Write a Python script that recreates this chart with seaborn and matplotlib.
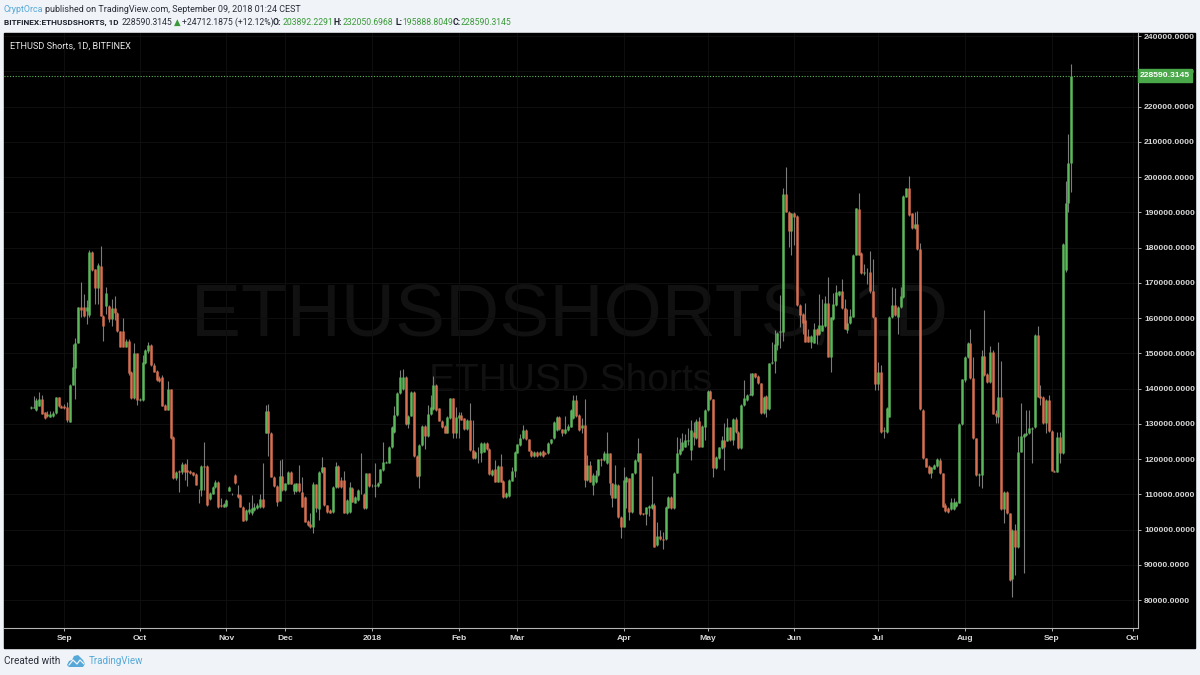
import matplotlib
matplotlib.use("Agg")
import matplotlib.pyplot as plt
from matplotlib.patches import Polygon, Rectangle
from matplotlib.transforms import Bbox
import seaborn as sns
import pandas as pd

# daily candles, in thousands
OPENS = [
    134.5,134.4,133.9,135,137,133.2,132.2,132,132.2,133,
    137.5,135,135,134.8,130.6,141,145.7,153,163,163,
    162,160.9,178.6,173.8,168.6,174.8,160.6,163.4,163.4,159.7,
    162.8,161.4,156.2,156.2,151.9,153.6,144.8,137.2,150,136.8,
    136.8,147.2,150.5,152.4,146.7,145,142.9,143.4,135.4,134,
    139.8,126.2,114.5,116.5,116.4,118.6,116.9,116.7,116.2,115.8,
    111.3,111.2,118,118,108.6,110.2,112,113.6,107,106.5,
    106.7,111,110,115.5,110.2,109.8,106.5,102.7,105,104.6,
    105.5,106,106.3,108.6,127.5,133.7,127.5,115,112.4,108.2,
    115.2,111.2,113,116.4,110.8,110.9,113.1,110.7,109.3,102.5,
    101.5,100.8,112.8,105.7,116.4,117.6,106.9,105.5,105,112,
    118.1,114,114,104.6,105,111.7,107.6,108.4,110.5,110.2,
    106,115.9,112.6,112.3,112.4,113.3,116.9,119,119,123.3,
    127.7,132.5,138.6,139.8,143.3,129.9,132.3,139.1,120.9,115.2,
    124,129.4,126.5,132.7,134.1,141,134.4,130.9,129.4,127.5,
    131.5,137.2,127.3,131.5,132.5,131.5,128.4,131,122.5,120.2,
    122.1,121.8,122.1,124.6,122.9,115.5,117.3,113.6,118,113.8,
    109.1,109.5,113.9,116.7,121.8,124,125.9,128.2,125.6,122.3,
    120.9,122.1,121.1,122.3,121.8,121.6,124.5,125.9,128.2,132,
    128.4,127.3,128.2,129.2,131.5,136.7,132.5,128.7,129.6,114,
    118.3,112.6,113.5,115.5,119.9,119.7,118.8,121.6,113.1,109,
    112.6,103.6,100.8,113.6,114.5,105,115.9,119.3,121.6,104.6,
    104.4,106,106,107,95.6,98.2,97.4,97.2,106.2,109.3,
    106,116.1,121.4,122.5,123.5,125.2,122.6,127.7,125.9,130.9,
    123.5,129.2,133.9,139.4,136.9,117.4,120.2,123,125.4,125.2,
    129,125.4,131.3,127.7,123,135.3,136.7,138.3,138.2,144.3,
    143.5,141.5,133,137.9,134.1,147.1,147.9,152.3,156,156.1,
    195.3,190.1,184.7,189.7,188.9,163.7,161.1,159.4,154.9,153.3,
    153,157,155.4,156.4,157.7,164.3,149,159.6,163.7,166.5,
    167.6,162.7,156.5,158.5,160.4,178,190.8,178.5,172.8,172.9,
    173.1,167.7,160.2,141.4,144.7,128,127.7,132,160.2,163.7,
    160.2,163,166,194.4,196.8,189.7,185.4,186.6,179.5,133.9,
    120.2,118,115.9,117.3,118,119.7,115.9,106.9,106.2,105.7,
    105.7,106.7,107.6,129.9,142.4,148.8,153,142.9,125.9,115.6,
    115.5,149.2,144.1,141.9,150.4,133,132,137.5,105.7,110.7,
    104.6,85.9,99.9,94.9,122.1,126.3,126.8,127.3,128.6,129,
    155.2,137.9,137.7,130.1,136.7,128,116.7,116.4,126.3,121.6,
    173.6,192.7,203.892,
]
CLOSES = [
    134.7,134.8,136.8,137,132.8,131.6,132.7,132.7,133,137.5,
    135,134.6,134.4,131.1,141,146,153,163,162.3,160.6,
    163,178.6,173.5,168.6,175.1,160.7,157.6,167,159.7,162.8,
    161.4,156.2,151.9,151.9,153.6,144.3,137.2,150,136.8,137,
    147.5,150.8,152.4,146.7,144.8,142.4,142,135.1,134,139.8,
    125.9,114.5,116.4,116.2,118.6,116.4,116.2,116,115.5,112.7,
    111.1,118,117.8,107,110.3,112.2,113.6,106.3,106.8,107.3,
    108.4,112.2,110.2,113.1,109.3,106.5,102.5,105.5,105.7,106,
    106.5,106.9,108.6,106.3,133.7,127.5,115,112.4,107.9,115.2,
    111.2,113.1,116.4,113,113,113.1,110.8,106.5,102.2,101.2,
    100.8,112.8,106,116.4,117.6,106.9,105,104.8,112.1,118.1,
    112,112,104.8,108.4,112,107.9,109.3,111.2,110.6,106,
    115.9,112.3,112.5,112.5,113.3,117.1,119.2,119.2,123.5,129.2,
    132.5,138.8,143.3,143.3,129.9,132.3,139.1,120.9,115.2,124,
    129.4,126.5,132.9,134.7,141,133.9,130.9,129,127.5,132,
    137.2,127.3,132,132.5,131.2,128.4,131.2,122.5,120.2,122.1,
    122,124.6,124.6,122.7,115.7,117,113.6,118,113.6,109.1,
    110.4,114,116.7,122.1,124.2,125.9,128.2,125.6,122.4,120.9,
    122.1,120.9,122.1,120.9,121.5,124.6,125.6,130.6,132,128.4,
    127.3,128.4,129.4,133.9,136.7,132.2,128.2,129.6,114,118.3,
    113.6,115.5,115.5,119.9,119.7,121.6,121.6,113.1,109,112.9,
    103.6,100.6,114,115,105,115.9,119.7,121.6,104.4,104.4,
    106.3,106.7,107.2,95.1,98.2,97.2,97,106.5,109.3,106,
    116.1,121.6,122.7,124.9,125.4,125.4,128.2,126.3,130.9,123.5,
    129.4,133.9,139.4,136.9,117.4,120.7,123.3,125.4,123.3,129,
    125.4,131.3,127.7,123,135.3,137.2,138.2,138.5,144.3,143.2,
    141.5,133.1,137.7,134.1,147.1,147.6,152.6,155.7,156.2,195.3,
    190.1,184.7,189.7,188.7,163.7,160.8,158.5,153.3,153.3,154.9,
    157,155.2,158,158,164.3,149,160.2,163.9,167.4,167.6,
    162.7,157,158.5,160.5,178,191.1,178,172.8,173,172.7,
    167.7,160.2,141.4,144.7,127.7,128.1,134.6,160.4,163.7,160.8,
    163.2,166.2,194.6,196.8,189.2,185.4,186.6,179.5,134.1,120.2,
    117.8,115.9,117.6,118.3,119.9,115.9,106.5,105.3,105,107.9,
    107.9,107.9,129.9,142.6,148.8,153,142.9,125.9,115.5,115.8,
    149.2,143.8,141.9,150.4,132.9,132.2,137.5,105.7,110.7,104.6,
    85.7,99.9,94.9,122.1,126.5,127.2,127.5,128.7,128.9,155.2,
    137.7,137.2,130.1,136.7,128,116.7,116.4,126.3,121.6,181,
    192.5,204.1,228.59,
]
HIGHS = [
    134.9,137.9,137.2,138.9,138.2,133.4,133.6,133.5,133.5,137.6,
    137.6,135.2,135.5,136.3,141.2,152.5,154.3,163.2,170.3,166.8,
    165.1,179.3,179,174,175.5,180.5,160.8,168.9,163.6,165.3,
    166.3,161.6,156.4,160,154,154,145,152.8,150.2,137.4,
    149.5,151.2,153.3,152.6,147.3,145.2,143.5,143.8,135.6,142,
    140,126.4,116.6,116.8,119.2,119,119.9,117,116.4,116,
    111.5,118.4,124.8,118.2,110.5,112.4,114,113.8,108.9,107.6,
    108.6,112.3,110.3,115.7,112.5,110,106.7,105.7,107.9,109.8,
    107.6,107.4,110,119,135.4,135.6,127.7,115.2,112.6,119.8,
    120,113.3,116.6,116.7,113.2,113.3,118.3,115,109.5,102.7,
    104.6,113.6,113,116.6,120.6,117.8,107,105.7,112.4,119.2,
    118.3,115,116.7,108.6,113.6,112,109.5,111.4,121.6,110.4,
    116.1,116.1,113,118.8,113.5,117.3,124.9,119.4,123.7,129.4,
    134.9,139,145.2,145.4,143.5,132.5,139.3,139.3,121.1,124.2,
    129.6,129.6,135.3,138.2,143.5,141.2,134.6,131.1,129.6,132.2,
    137.4,137.4,134.8,133.4,133.4,131.7,131.4,135.8,131,122.3,
    123.5,124.8,124.8,124.8,123.1,117.2,119.7,118.2,121.4,114,
    110.6,114.2,117.8,122.3,124.4,127,129.6,128.4,125.8,122.5,
    122.3,122.3,122.3,122.5,122,124.8,125.8,130.8,132.2,132.2,
    128.6,132.2,130,134.1,138.2,138.2,132.7,131.5,136.9,121.1,
    119.4,116,117,120,120.2,122.2,127.8,121.8,113.3,118.3,
    112.8,103.8,117.8,115.2,114.7,116.1,120,125.9,121.8,104.8,
    106.5,106.9,115.3,107.5,102.2,99.9,99.4,106.7,109.5,109.5,
    116.3,126.3,125.9,127.3,127,128.7,131.1,130.6,131.3,132,
    129.6,134.1,139.6,139.6,137.1,120.9,123.5,126.5,130.1,131.5,
    129.2,131.5,131.8,127.9,135.5,142.4,138.4,144.5,144.5,144.5,
    143.7,141.7,137.9,138.1,147.3,153.3,156.6,155.9,166.5,197,
    202.9,190.3,189.9,190,189.1,163.9,161.3,164.3,157,155.1,
    158.7,157.2,166.7,165.3,166.2,171.5,160.4,167,169.3,167.8,
    171,165.3,162.5,162.5,178.2,191.3,195.5,178.7,175.3,174.3,
    179.1,176.6,160.4,147.6,146.6,129.1,134.8,160.6,168.9,168.6,
    163.4,168.9,194.8,197,200.3,189.9,190.1,190.4,181.4,134.1,
    120.4,118.2,117.8,118.5,120.3,120.3,116.1,107.4,106.4,108.8,
    108.8,108.2,130.1,142.8,149.2,153.2,156.8,149,126.1,116,
    150.9,162.3,144.3,152,151,133.9,153.3,147.8,110.9,110.9,
    104.8,100.1,101.7,126.4,136,127.4,133.9,133.9,129.1,155.4,
    157.7,141,137.9,136.9,138.2,128.2,116.9,127.6,127.6,181.2,
    198.9,212.2,232.051,
]
LOWS = [
    134.3,134.4,133.7,135,132.8,131.4,132,132,132,132.7,
    134.8,134.4,134.3,130.6,130.5,141,137,153,160.4,160.2,
    158.3,160.2,173.3,164,164,160.7,153.6,161,158.9,157.8,
    159.3,155.9,151.9,151.9,151.8,143.8,137,137,135.4,136.5,
    136.5,147,150,146.5,144.6,142,141.8,135,133.8,133.8,
    125.7,114.2,114,110.5,115.8,114,112.4,115.7,115.3,112.5,
    107.6,109.4,111.2,106.8,108.4,110,111.8,106,106.5,106.3,
    106.5,110.9,109.9,112.9,108.9,106.3,102.3,102.4,104.5,104,
    105.3,105.8,106,106,127.3,120.9,114.8,112.2,106.7,108,
    110.8,110.9,112.8,112.8,110,110.7,110.6,106.3,102,101,
    100.5,99.1,105,102.7,116,106.7,104.8,104.6,104.8,111.8,
    111.8,111.8,104.6,104.5,104.8,107.7,107.4,108.2,110.2,105.8,
    105.8,112.1,112.1,109.3,112.2,113.1,116.7,118.8,118.8,123.1,
    127.5,132.3,138.4,139.6,129.7,128.7,132.1,120.7,115,111.7,
    123.8,122.9,126.3,132.5,133.9,133.7,130.7,128.8,127.3,127.3,
    131.3,125.9,125.9,125.9,131,128.2,128.2,122.3,120,120,
    118.8,119.2,121.9,122.5,115.5,115.3,113.4,113.4,113.4,108.9,
    108.9,109.3,113.7,114.9,121.6,123.8,125.7,125.4,122.2,120.7,
    120.7,120.7,120.9,120.7,121.3,121.4,124.3,125.7,128,128.2,
    126.5,127.1,128,129,131.3,132,127.9,127.5,112,113.8,
    113.4,109.8,113.3,115.3,118,119.5,118.6,109.9,106.3,108.8,
    103.4,97.5,100.6,106,102.8,104.8,115.7,119.1,104.2,104.2,
    101.3,103.8,105.8,94.9,95.4,97,94.6,97,106,105.8,
    105.8,115.9,121.2,122.3,123.3,124,119.7,124,125.7,123.3,
    123.3,125.4,133.7,136.7,114.9,117.2,120,122.8,116.9,125,
    125.2,123.9,127.5,122.8,122.8,135.1,136.5,138.1,138,143,
    141.3,132.9,132.8,131.8,133.9,146.9,144.3,151,151.4,153.5,
    190,180.2,177.8,180.7,163.5,157.5,155.6,153.1,153.1,151.4,
    152.8,152.6,155.2,156.2,157.5,148.8,144.8,159.4,163.5,166.3,
    162.5,156.8,155.8,158.3,160.2,177.8,177.8,172.6,172.2,169.6,
    167.2,160,139.6,139.6,127.5,126.1,127.5,131.8,160,160.6,
    155.6,162.8,165.8,194.2,189,185.2,185.2,179.3,133.9,120,
    117.6,115.7,114.5,117.1,117.8,115.7,106.3,105.1,104.8,105.5,
    105.5,106.5,107.4,129.7,141.9,148.6,142.7,125.7,115.3,112.3,
    111.7,143.6,141.5,141.7,132.7,130.1,130.1,105.5,101.9,104.4,
    85.5,80.9,87.1,94.7,121.9,87.6,126.6,127.1,118.8,128.8,
    137.5,135.3,129.9,127.3,127.8,116.5,116.2,116.2,118.8,121.4,
    173,190.2,195.889,
]

X_TICK_BARS = [12, 39, 70, 91, 122, 153, 174, 212, 242, 273, 303, 334, 365, 394]
X_TICK_LABELS = ["Sep", "Oct", "Nov", "Dec", "2018", "Feb", "Mar", "Apr", "May", "Jun", "Jul", "Aug", "Sep", "Oct"]
Y_TICKS = list(range(80000, 240001, 10000))
LAST_CLOSE = 228590.3145

GREEN = "#5cb85a"
RED = "#d76f50"
WICK = "#7c7c7c"
PAGE = "#f0f3f7"
GRID = "#0e0e0e"
WATERMARK = "#111111"
BLUE = "#55a8d8"
DARK = "#2a2e39"

W, H = 1200, 675


def fx(x):
    return x / W


def fy(y):
    return 1 - y / H


def label(fig, x, y, s, color=DARK, size=6.2, weight="normal", family=None):
    fig.text(fx(x), fy(y), s, color=color, fontsize=size, fontweight=weight, va="center", ha="left",
             family=family or ["Roboto", "DejaVu Sans"])


def build_tables():
    bars = list(range(len(OPENS)))
    df = pd.DataFrame({"bar": bars, "open": OPENS, "close": CLOSES, "high": HIGHS, "low": LOWS})
    df[["open", "close", "high", "low"]] *= 1000
    df["dir"] = ["up" if c >= o else "down" for o, c in zip(df["open"], df["close"])]
    wicks = df.melt(id_vars=["bar", "dir"], value_vars=["high", "low"], value_name="price")
    bodies = df.melt(id_vars=["bar", "dir"], value_vars=["open", "close"], value_name="price")
    return wicks, bodies


def draw_candles(ax, wicks, bodies):
    sns.lineplot(data=wicks, x="bar", y="price", units="bar", estimator=None, color=WICK,
                 linewidth=0.8, solid_capstyle="butt", legend=False, ax=ax, zorder=3)
    sns.lineplot(data=bodies, x="bar", y="price", units="bar", estimator=None, hue="dir",
                 palette={"up": GREEN, "down": RED}, linewidth=1.8, solid_capstyle="butt",
                 legend=False, ax=ax, zorder=4)


def style_axes(fig, ax):
    ax.set_xlim(-9.55, 395.75)
    ax.set_ylim(72060, 240940)
    ax.set_xlabel("")
    ax.set_ylabel("")
    ax.set_facecolor("none")
    ax.grid(True, color=GRID, linewidth=0.8)
    ax.set_axisbelow(True)
    for side in ["left", "top"]:
        ax.spines[side].set_visible(False)
    for side in ["right", "bottom"]:
        ax.spines[side].set_visible(True)
        ax.spines[side].set_color("#b4b4b4")
        ax.spines[side].set_linewidth(0.8)

    ax.yaxis.tick_right()
    ax.set_yticks(Y_TICKS)
    ax.set_yticklabels([f"{v:.4f}" for v in Y_TICKS])
    ax.set_xticks(X_TICK_BARS)
    ax.set_xticklabels(X_TICK_LABELS)
    ax.tick_params(axis="both", length=2.2, width=0.7, color="#b4b4b4", left=False, right=True,
                   bottom=True, labelcolor="#d8d8d8", labelsize=6.1, pad=2.5)
    fig.canvas.draw()
    # the top price and the last month run off the panel in the original
    top_box = Bbox.from_extents(0, 0, W, H - 32.7)
    side_box = Bbox.from_extents(0, 0, 1137.6, H)
    for tick_label in ax.get_yticklabels():
        tick_label.set_fontweight("bold")
        tick_label.set_clip_box(top_box)
        tick_label.set_clip_on(True)
    for tick_label in ax.get_xticklabels():
        tick_label.set_fontweight("bold")
        tick_label.set_clip_box(side_box)
        tick_label.set_clip_on(True)


def draw_overlays(fig, ax):
    ax.axhline(LAST_CLOSE, color=GREEN, linewidth=0.8, linestyle=(0, (1, 1.5)), zorder=2)
    fig.add_artist(Rectangle((fx(1138), fy(81.5)), 54 / W, 12.5 / H, transform=fig.transFigure,
                             color="#4aa84a", zorder=5))
    fig.text(fx(1165), fy(75.2), f"{LAST_CLOSE:.4f}", color="white", fontsize=6.1, fontweight="bold",
             ha="center", va="center", zorder=6)

    # watermark sits behind the candles
    fig.text(fx(570), fy(316), "ETHUSDSHORTS, 1D", color=WATERMARK, fontsize=54, ha="center",
             va="center", zorder=-2)
    fig.text(fx(571), fy(381), "ETHUSD Shorts", color=WATERMARK, fontsize=28, ha="center",
             va="center", zorder=-2)
    label(fig, 10, 46, "ETHUSD Shorts, 1D, BITFINEX", color="#e6e6e6", size=6.6)


def draw_header(fig):
    label(fig, 4, 9.5, "CryptOrca", color=BLUE, size=6.4)
    label(fig, 45, 9.5, "published on TradingView.com, September 09, 2018 01:24 CEST", size=6.5)
    label(fig, 4, 22.5, "BITFINEX:ETHUSDSHORTS, 1D", weight="bold", color="#1e222d", size=5.95)
    label(fig, 122, 22.5, "228590.3145")
    label(fig, 173.5, 22.5, "\u25b2", color="#3a9a3a", family=["DejaVu Sans"])
    label(fig, 182, 22.5, "+24712.1875 (+12.12%)")
    for x_key, key, x_val, val in [(273, "O:", 283, "203892.2291"), (334, "H:", 343, "232050.6968"),
                                   (396, "L:", 402, "195888.8049"), (453, "C:", 461, "228590.3145")]:
        label(fig, x_key, 22.5, key, weight="bold", color="#1e222d")
        label(fig, x_val, 22.5, val, color="#3a9a3a")


def draw_footer(fig):
    label(fig, 4, 661, "Created with", size=7.2)
    label(fig, 89, 661, "TradingView", color=BLUE, size=7.0)
    cloud = [(67, 665), (69, 661), (72, 660), (74, 656), (78, 655), (81, 658), (83, 660), (85, 664), (83, 667), (69, 667)]
    fig.add_artist(Polygon([(fx(a), fy(b)) for a, b in cloud], closed=True, transform=fig.transFigure,
                           facecolor=BLUE, edgecolor="none"))
    zigzag = [(69, 665), (73, 660), (77, 664), (80, 660), (84, 664)]
    fig.add_artist(plt.Line2D([fx(a) for a, b in zigzag], [fy(b) for a, b in zigzag], color=PAGE,
                              linewidth=0.9, transform=fig.transFigure))


def main():
    sns.set_theme(style="dark", rc={"axes.edgecolor": "#b4b4b4"})
    plt.rcParams["font.family"] = ["Liberation Sans", "DejaVu Sans"]

    fig = plt.figure(figsize=(W / 100, H / 100), dpi=100, facecolor=PAGE)
    fig.add_artist(Rectangle((fx(4), fy(648)), 1191 / W, (648 - 32.7) / H, transform=fig.transFigure,
                             color="black", zorder=-5))
    ax = fig.add_axes([fx(4), fy(628), (1137.6 - 4) / W, (628 - 32.7) / H])

    wicks, bodies = build_tables()
    draw_candles(ax, wicks, bodies)
    style_axes(fig, ax)
    draw_overlays(fig, ax)
    draw_header(fig)
    draw_footer(fig)

    fig.savefig("out.png", dpi=100, facecolor=PAGE)


if __name__ == "__main__":
    main()
